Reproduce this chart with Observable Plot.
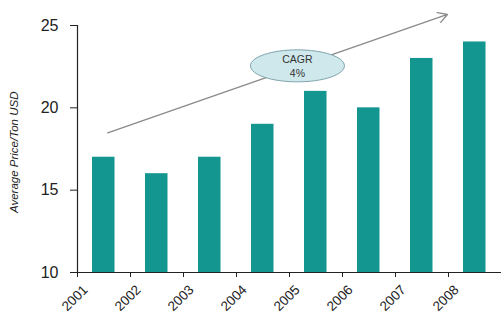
<!DOCTYPE html>
<html>
<head>
<meta charset="utf-8">
<script src="https://cdn.jsdelivr.net/npm/d3@7"></script>
<script src="https://cdn.jsdelivr.net/npm/@observablehq/plot@0.6"></script>
<style>
  html, body { margin: 0; padding: 0; background: #fff; }
  #chart svg { display: block; }
</style>
</head>
<body>
<div id="chart"></div>
<script>
// Average rice price per ton (USD), yearly
const years = [2001, 2002, 2003, 2004, 2005, 2006, 2007, 2008];
const prices = [17, 16, 17, 19, 21, 20, 23, 24];
const yTicks = [10, 15, 20, 25];

// Trend arrow (start/end in data units) and CAGR callout
const trendX = [2001.57, 2007.98];
const trendY = [18.48, 25.67];
const cagrLabel = ["CAGR", "4%"];
const calloutX = [2005.15];
const calloutY = [22.55];

const rows = years.map((year, i) => ({year, price: prices[i]}));

// Ellipse symbol for the callout bubble, drawn with cubic curves
function ellipseSymbol(rx, ry) {
  const k = 0.5523;
  return {
    draw(ctx) {
      ctx.moveTo(rx, 0);
      ctx.bezierCurveTo(rx, ry * k, rx * k, ry, 0, ry);
      ctx.bezierCurveTo(-rx * k, ry, -rx, ry * k, -rx, 0);
      ctx.bezierCurveTo(-rx, -ry * k, -rx * k, -ry, 0, -ry);
      ctx.bezierCurveTo(rx * k, -ry, rx, -ry * k, rx, 0);
      ctx.closePath();
    }
  };
}

const font = "Liberation Sans, Arial, sans-serif";

const chart = Plot.plot({
  width: 502,
  height: 322,
  marginLeft: 77,
  marginRight: 1,
  marginTop: 25,
  marginBottom: 50,
  style: {fontFamily: font, background: "#fff", overflow: "visible"},
  x: {type: "linear", domain: [2001, 2009]},
  y: {domain: [10, 25]},
  marks: [
    Plot.rectY(rows, {x1: "year", x2: d => d.year + 1, y1: 10, y2: "price", insetLeft: 15, insetRight: 15.5, fill: "#139690"}),
    // axis lines
    Plot.ruleX([2001], {y1: 10, y2: 25, stroke: "#222", strokeWidth: 1.2}),
    Plot.ruleY([10], {x1: 2001, x2: 2009, stroke: "#222", strokeWidth: 1.2}),
    // y ticks and labels
    Plot.axisY({ticks: yTicks, tickSize: 7, tickPadding: 12, fontSize: 16, color: "#222", label: null}),
    // x ticks (labels drawn rotated below)
    Plot.axisX({ticks: years, tickSize: 5, tickFormat: () => "", label: null, stroke: "#222"}),
    Plot.text(years, {x: d => d, y: 10, text: d => String(d), rotate: -45, textAnchor: "end", dx: 8, dy: 15, fontSize: 13.5, fill: "#222"}),
    // trend arrow
    Plot.arrow([0], {x1: () => trendX[0], y1: () => trendY[0], x2: () => trendX[1], y2: () => trendY[1], stroke: "#8a8a8a", strokeWidth: 1.3, headLength: 12, clip: false}),
    // CAGR bubble
    Plot.dot(calloutX, {x: d => d, y: () => calloutY[0], symbol: ellipseSymbol(47, 16), fill: "#cfe8ec", stroke: "#7fa4ad", strokeWidth: 1}),
    Plot.text([cagrLabel.join("\n")], {x: () => calloutX[0], y: () => calloutY[0], text: d => d, fontSize: 10.5, fill: "#333", lineHeight: 1.3}),
    // y axis title
    Plot.text(["Average Price/Ton USD"], {x: 2001, y: 17.3, text: d => d, rotate: -90, dx: -63, fontSize: 11.5, fontStyle: "italic", fill: "#222"})
  ]
});

document.getElementById("chart").appendChild(chart);
</script>
</body>
</html>
